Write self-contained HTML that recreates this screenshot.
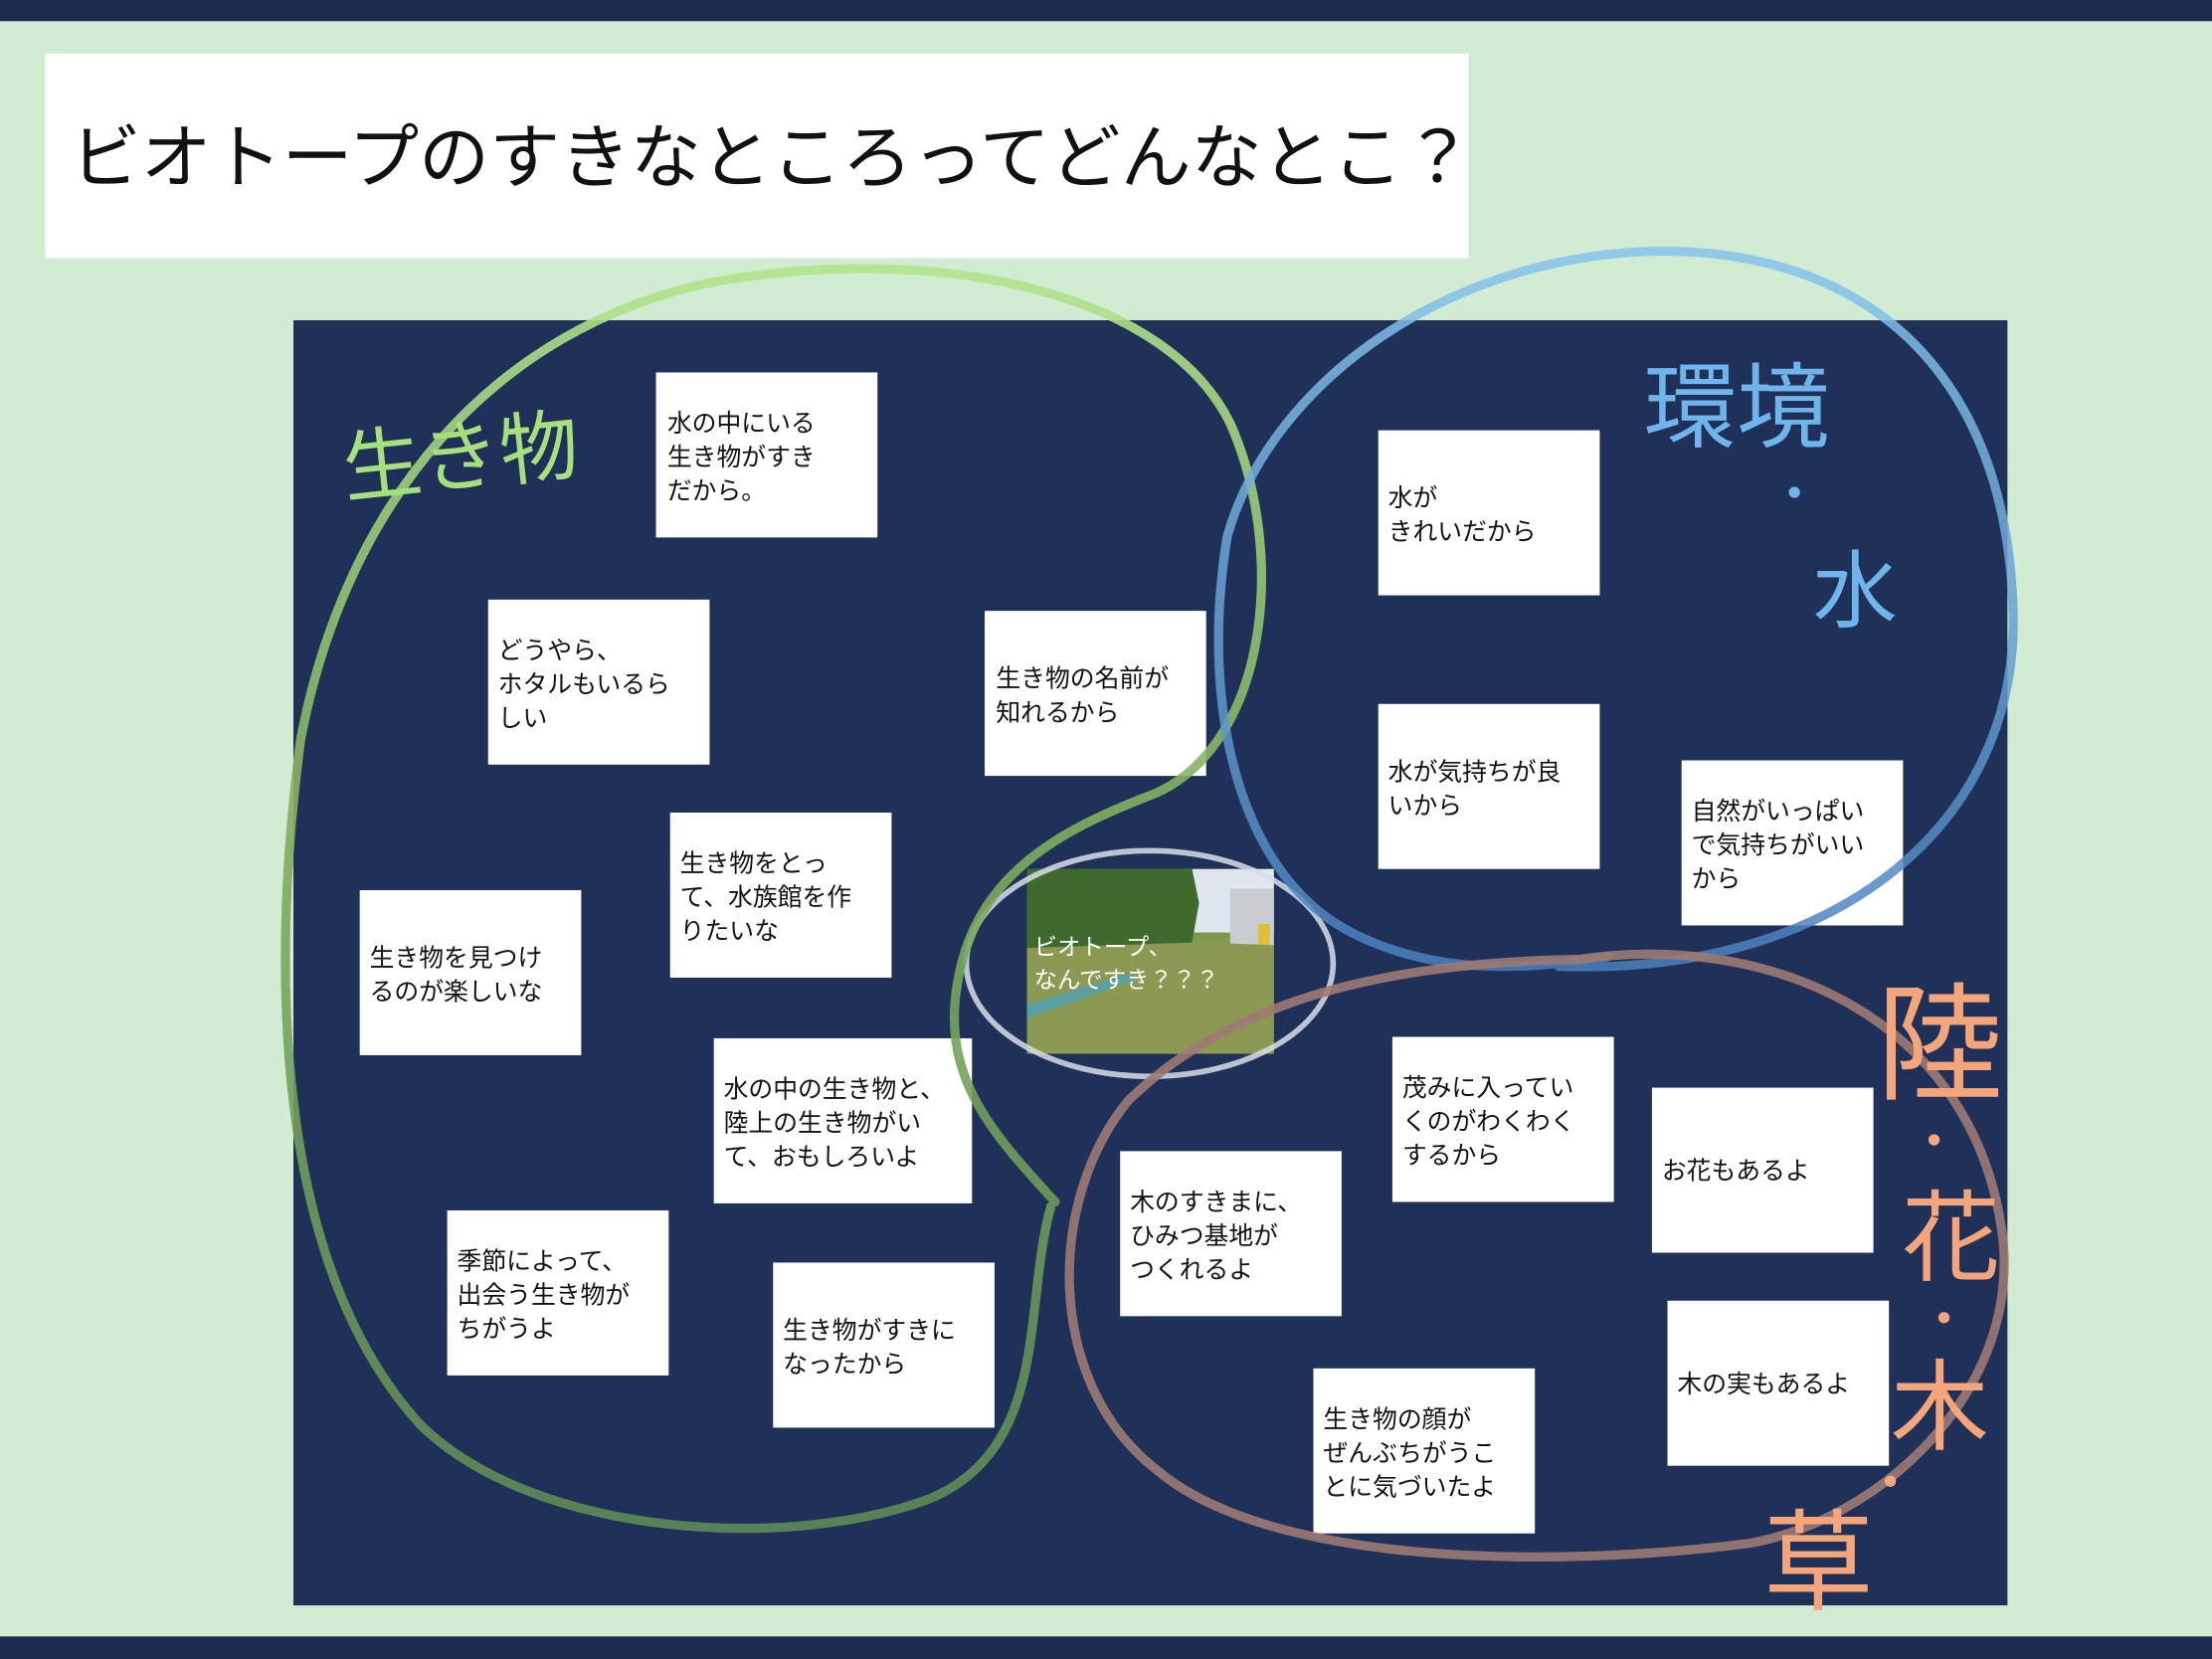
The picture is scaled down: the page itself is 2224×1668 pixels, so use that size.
<!DOCTYPE html>
<html><head><meta charset="utf-8">
<style>
html,body{margin:0;padding:0;width:2224px;height:1668px;overflow:hidden;background:#d2ecd4}
svg{display:block}
text{font-family:"Liberation Sans","Noto Sans CJK JP",sans-serif}
</style></head><body>
<svg width="2224" height="1668" viewBox="0 0 1568 1176" xmlns="http://www.w3.org/2000/svg">
<defs>
<linearGradient id="gg" x1="0" y1="0" x2="0" y2="1"><stop offset="0" stop-color="#b2e48c"/><stop offset="0.45" stop-color="#7fae5e"/><stop offset="1" stop-color="#5d8a55"/></linearGradient>
<linearGradient id="bg" x1="0" y1="0" x2="0" y2="1"><stop offset="0" stop-color="#86c3ea"/><stop offset="1" stop-color="#4a80bd"/></linearGradient>
</defs>
<rect x="0" y="0" width="1568" height="1176" fill="#d2ecd4"/>
<rect x="0" y="0" width="1568" height="15" fill="#1c2a4d"/>
<rect x="0" y="1160" width="1568" height="16" fill="#1c2a4d"/>
<rect x="32" y="38" width="1009" height="145" fill="#fff"/>
<text x="50" y="129" font-size="50" fill="#111">ビオトープのすきなところってどんなとこ？</text>
<rect x="208" y="227" width="1215" height="911" fill="#1f3059"/>

<g fill="#fff">
<rect x="465" y="264" width="157" height="117"/>
<rect x="346" y="425" width="157" height="117"/>
<rect x="698" y="433" width="157" height="117"/>
<rect x="977" y="305" width="157" height="117"/>
<rect x="977" y="499" width="157" height="117"/>
<rect x="1192" y="539" width="157" height="117"/>
<rect x="475" y="576" width="157" height="117"/>
<rect x="255" y="631" width="157" height="117"/>
<rect x="506" y="736" width="183" height="117"/>
<rect x="317" y="858" width="157" height="117"/>
<rect x="548" y="895" width="157" height="117"/>
<rect x="987" y="735" width="157" height="117"/>
<rect x="1171" y="771" width="157" height="117"/>
<rect x="794" y="816" width="157" height="117"/>
<rect x="1182" y="922" width="157" height="117"/>
<rect x="931" y="970" width="157" height="117"/>
</g>
<g font-size="17.5" fill="#111">
<text x="473" y="306">水の中にいる</text><text x="473" y="330">生き物がすき</text><text x="473" y="354">だから。</text>
<text x="353" y="467">どうやら、</text><text x="353" y="491">ホタルもいるら</text><text x="353" y="515">しい</text>
<text x="706" y="487">生き物の名前が</text><text x="706" y="511">知れるから</text>
<text x="984" y="359">水が</text><text x="984" y="383">きれいだから</text>
<text x="984" y="553">水が気持ちが良</text><text x="984" y="577">いから</text>
<text x="1199" y="581">自然がいっぱい</text><text x="1199" y="605">で気持ちがいい</text><text x="1199" y="629">から</text>
<text x="482" y="618">生き物をとっ</text><text x="482" y="642">て、水族館を作</text><text x="482" y="666">りたいな</text>
<text x="262" y="685">生き物を見つけ</text><text x="262" y="709">るのが楽しいな</text>
<text x="513" y="778">水の中の生き物と、</text><text x="513" y="802">陸上の生き物がい</text><text x="513" y="826">て、おもしろいよ</text>
<text x="324" y="900">季節によって、</text><text x="324" y="924">出会う生き物が</text><text x="324" y="948">ちがうよ</text>
<text x="555" y="949">生き物がすきに</text><text x="555" y="973">なったから</text>
<text x="994" y="777">茂みに入ってい</text><text x="994" y="801">くのがわくわく</text><text x="994" y="825">するから</text>
<text x="1178" y="836">お花もあるよ</text>
<text x="801" y="858">木のすきまに、</text><text x="801" y="882">ひみつ基地が</text><text x="801" y="906">つくれるよ</text>
<text x="1189" y="987">木の実もあるよ</text>
<text x="938" y="1012">生き物の顔が</text><text x="938" y="1036">ぜんぶちがうこ</text><text x="938" y="1060">とに気づいたよ</text>
</g>

<!-- photo -->
<rect x="728" y="616" width="175" height="131" fill="#7d9a4e"/>
<rect x="840" y="616" width="63" height="45" fill="#dfe6ee"/>
<rect x="872" y="630" width="31" height="40" fill="#c8ccd0"/>
<rect x="892" y="655" width="8" height="16" fill="#e0c030"/>
<path d="M728 616 L845 616 L850 640 L845 668 L728 690 Z" fill="#3f6a2e"/>
<path d="M728 672 L850 668 L903 670 L903 747 L728 747 Z" fill="#8a9a52"/>
<path d="M728 712 L800 690 L805 694 L728 722 Z" fill="#5aa0a0"/>
<g font-size="16.5" fill="#fff"><text x="733" y="677">ビオトープ、</text><text x="733" y="700">なんですき？？？</text></g>
<ellipse cx="815" cy="683" rx="130" ry="80" fill="none" stroke="#d8dde8" stroke-width="4" opacity="0.85"/>

<!-- loops -->
<path d="M748 852 C 700 800, 665 760, 680 690 C 695 615, 760 585, 820 562 C 900 525, 912 390, 872 300 C 825 205, 660 172, 505 200 C 350 232, 245 355, 213 525 C 190 700, 198 900, 298 1010 C 380 1090, 560 1100, 660 1062 C 745 1025, 725 925, 745 855" fill="none" stroke="url(#gg)" stroke-width="6.5" stroke-linecap="round" opacity="0.9"/>
<path d="M1105 685 C 1300 692, 1432 585, 1427 432 C 1422 272, 1332 180, 1182 178 C 1032 178, 902 268, 870 380 C 850 500, 878 622, 960 662 C 1012 688, 1070 690, 1140 678" fill="none" stroke="url(#bg)" stroke-width="6.5" stroke-linecap="round" opacity="0.85"/>
<path d="M1120 680 C 1255 660, 1402 722, 1420 880 C 1430 990, 1330 1078, 1240 1094 C 1100 1112, 900 1110, 820 1042 C 740 980, 742 850, 800 780 C 880 702, 1000 682, 1120 680" fill="none" stroke="#9c7b73" stroke-width="6.5" stroke-linecap="round" opacity="0.9"/>

<!-- handwritten labels -->
<text x="245" y="352" font-size="56" fill="#a6e07c" transform="rotate(-6 245 352)">生き物</text>
<text x="1165" y="312" font-size="66" fill="#6fb4ea">環境</text>
<circle cx="1272" cy="349" r="4" fill="#6fb4ea"/>
<text x="1285" y="440" font-size="60" fill="#6fb4ea">水</text>
<g fill="#f4a57a">
<text x="1330" y="772" font-size="90">陸</text>
<circle cx="1371" cy="808" r="4"/>
<text x="1348" y="902" font-size="70">花</text>
<circle cx="1378" cy="934" r="4"/>
<text x="1340" y="1022" font-size="70">木</text>
<circle cx="1340" cy="1050" r="4"/>
<text x="1250" y="1135" font-size="78">草</text>
</g>
</svg>
</body></html>
